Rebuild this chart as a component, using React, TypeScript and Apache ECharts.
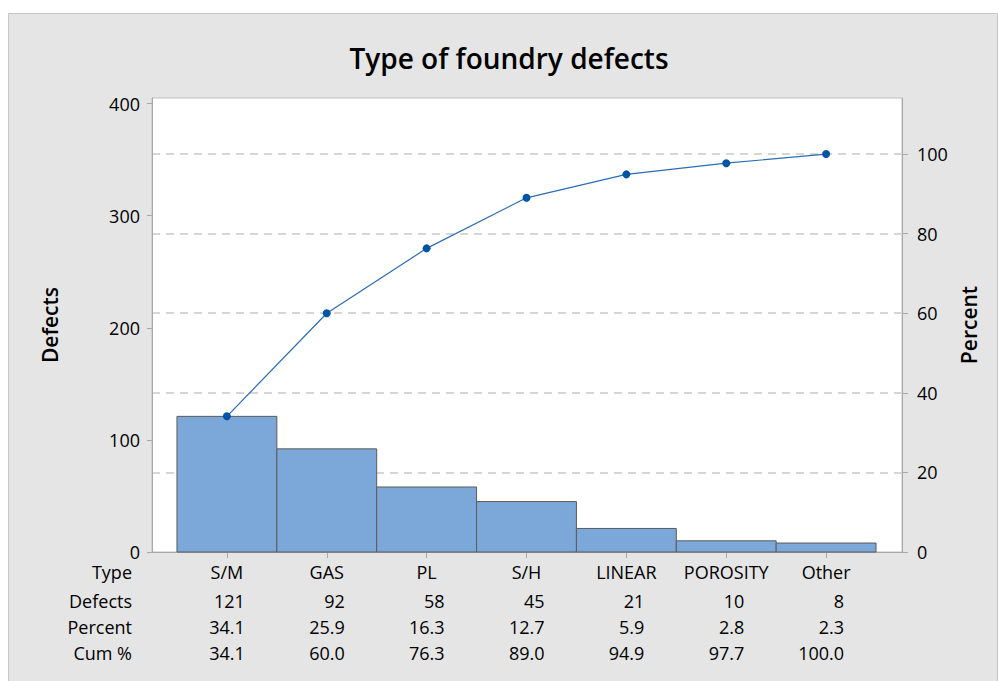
import React, { useEffect, useRef } from "react";
import * as echarts from "echarts";

const categories = ["S/M", "GAS", "PL", "S/H", "LINEAR", "POROSITY", "Other"];
const defects = [121, 92, 58, 45, 21, 10, 8];
const percent = [34.1, 25.9, 16.3, 12.7, 5.9, 2.8, 2.3];
const cumPercent = [34.1, 60.0, 76.3, 89.0, 94.9, 97.7, 100.0];
const leftTicks = [0, 100, 200, 300, 400];
const rightTicks = [0, 20, 40, 60, 80, 100];
const rowLabels = ["Type", "Defects", "Percent", "Cum %"];

const FONT = "'Open Sans', 'Noto Sans', sans-serif";
const TEXT = "#000";

export default function App() {
  const ref = useRef<HTMLDivElement>(null);
  useEffect(() => {
    if (!ref.current) return;
    const chart = echarts.init(ref.current, null, { renderer: "svg" });
    const total = defects.reduce((a, b) => a + b, 0);
    const leftMax = 405;
    const rightMax = (leftMax / total) * 100;
    const positions = categories.map((_, i) => i);
    const xMin = -0.75;
    const xMax = 6.76;

    const rowAxis = (offset: number, values: string[]) => ({
      type: "value",
      gridIndex: 0,
      position: "bottom",
      min: xMin,
      max: xMax,
      offset,
      axisLine: { show: false, onZero: false },
      axisTick: { show: false },
      splitLine: { show: false },
      axisLabel: {
        customValues: positions,
        margin: 11,
        formatter: (v: number) => `{n|${values[Math.round(v)]}}`,
        rich: {
          n: { width: 36, align: "right", fontSize: 18, fontFamily: FONT, color: TEXT },
        },
      },
    });

    const rowYs = [572, 601, 627, 653];

    chart.setOption({
      animation: false,
      backgroundColor: "#ffffff",
      title: {
        text: "Type of foundry defects",
        left: 504,
        top: 39,
        textAlign: "center",
        textStyle: { fontFamily: FONT, fontSize: 28, fontWeight: 600, color: TEXT },
      },
      graphic: {
        elements: [
          {
            type: "rect",
            z: -10,
            shape: { x: 8.5, y: 13.5, width: 989, height: 668 },
            style: { fill: "#e5e5e5", stroke: "#c6c6c6", lineWidth: 1 },
          },
          ...rowLabels.map((t, k) => ({
            type: "text",
            x: 132,
            y: rowYs[k],
            style: {
              text: t,
              align: "right",
              verticalAlign: "middle",
              fontSize: 18,
              fontFamily: FONT,
              fill: TEXT,
            },
          })),
        ],
      },
      grid: {
        left: 152,
        right: 96,
        top: 98,
        bottom: 129,
        show: true,
        backgroundColor: "#ffffff",
        borderColor: "#c0c0c0",
        borderWidth: 1,
      },
      xAxis: [
        {
          type: "value",
          gridIndex: 0,
          position: "bottom",
          min: xMin,
          max: xMax,
          axisLine: { show: true, onZero: false, lineStyle: { color: "#a8a8a8" } },
          axisTick: {
            show: true,
            customValues: positions,
            length: 6,
            lineStyle: { color: "#a8a8a8" },
          },
          splitLine: { show: false },
          axisLabel: {
            customValues: positions,
            margin: 11,
            fontSize: 18,
            fontFamily: FONT,
            color: TEXT,
            formatter: (v: number) => categories[Math.round(v)],
          },
        },
        rowAxis(29, defects.map((d) => String(d))),
        rowAxis(55, percent.map((p) => p.toFixed(1))),
        rowAxis(81, cumPercent.map((p) => p.toFixed(1))),
      ],
      yAxis: [
        {
          type: "value",
          min: 0,
          max: leftMax,
          position: "left",
          name: "Defects",
          nameLocation: "middle",
          nameGap: 92,
          nameRotate: 90,
          nameTextStyle: { fontFamily: FONT, fontSize: 21, fontWeight: 600, color: TEXT },
          axisLine: { show: true, onZero: false, lineStyle: { color: "#a8a8a8" } },
          axisTick: {
            show: true,
            customValues: leftTicks,
            length: 5,
            lineStyle: { color: "#a8a8a8" },
          },
          splitLine: { show: false },
          axisLabel: {
            customValues: leftTicks,
            margin: 12,
            fontSize: 18,
            fontFamily: FONT,
            color: TEXT,
          },
        },
        {
          type: "value",
          min: 0,
          max: rightMax,
          interval: 20,
          position: "right",
          name: "Percent",
          nameLocation: "middle",
          nameGap: 47,
          nameRotate: 90,
          nameTextStyle: { fontFamily: FONT, fontSize: 21, fontWeight: 600, color: TEXT },
          axisLine: { show: true, onZero: false, lineStyle: { color: "#a8a8a8" } },
          axisTick: {
            show: true,
            customValues: rightTicks,
            length: 6,
            lineStyle: { color: "#a8a8a8" },
          },
          splitLine: {
            show: true,
            showMinLine: false,
            showMaxLine: true,
            lineStyle: { color: "#d6d6d6", width: 2, type: [8, 6] },
          },
          axisLabel: {
            customValues: rightTicks,
            margin: 15,
            fontSize: 18,
            fontFamily: FONT,
            color: TEXT,
          },
        },
      ],
      series: [
        {
          type: "custom",
          xAxisIndex: 0,
          yAxisIndex: 0,
          data: defects.map((d, i) => [i, d]),
          encode: { x: 0, y: 1 },
          renderItem: (params: any, api: any) => {
            const i = api.value(0);
            const v = api.value(1);
            const p0 = api.coord([i - 0.5, v]);
            const p1 = api.coord([i + 0.5, 0]);
            return {
              type: "rect",
              shape: { x: p0[0], y: p0[1], width: p1[0] - p0[0], height: p1[1] - p0[1] },
              style: { fill: "#7ba7d9", stroke: "#5b5b5b", lineWidth: 1 },
            };
          },
          z: 2,
        },
        {
          type: "line",
          xAxisIndex: 0,
          yAxisIndex: 1,
          data: cumPercent.map((c, i) => [i, c]),
          symbol: "circle",
          symbolSize: 8,
          lineStyle: { color: "#2a6cb8", width: 1.2 },
          itemStyle: { color: "#0054a6" },
          z: 3,
        },
      ],
    });
    return () => chart.dispose();
  }, []);

  return (
    <div
      ref={ref}
      style={{ position: "fixed", left: 0, top: 0, width: 998, height: 681 }}
    />
  );
}
